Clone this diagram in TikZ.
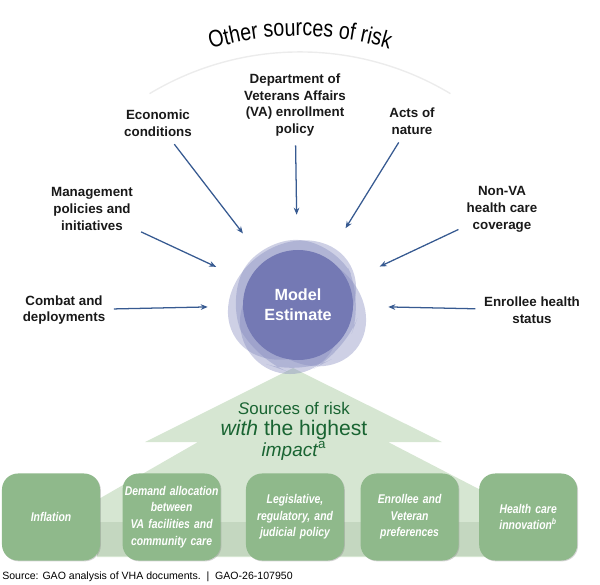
\documentclass[tikz,border=0pt]{standalone}
\usepackage{fontspec}
\setmainfont{Liberation Sans}
\newfontfamily\narrowfont{Liberation Sans}[FakeStretch=0.82]
\usepackage{tikz}
\usetikzlibrary{arrows.meta,positioning,shadows,decorations.text}
\definecolor{gaoblue}{RGB}{55,90,145}
\definecolor{estblue}{RGB}{116,121,180}
\definecolor{blobblue}{RGB}{132,138,190}
\definecolor{boxgreen}{RGB}{143,185,139}
\definecolor{treegreen}{RGB}{214,230,210}
\definecolor{bandgreen}{RGB}{196,215,192}
\definecolor{impactgreen}{RGB}{25,100,50}

\begin{document}
\begin{tikzpicture}[x=0.025cm, y=0.025cm,
    srclabel/.style={align=center, font=\fontsize{9.5}{12}\selectfont\bfseries, text=black!90, inner sep=3pt},
    riskarrow/.style={-{Stealth[length=5pt,width=4pt]}, draw=gaoblue, line width=0.9pt, shorten <=3pt},
    riskbox/.style={rectangle, rounded corners=0.4cm, fill=boxgreen, minimum width=2.45cm, minimum height=2.175cm, text width=2.43cm, inner xsep=0pt, align=center, text=white, font=\narrowfont\fontsize{9}{11.8}\selectfont\bfseries\itshape, drop shadow={shadow xshift=0.6pt, shadow yshift=-0.6pt, opacity=0.35}},
    blob/.style={fill=blobblue, fill opacity=0.4}]
    \useasboundingbox (0,0) rectangle (600,-585);

    % title on the arc
    \draw [gray!15, line width=1pt] ([shift={(121:7.3cm)}] 300,-344) arc [start angle=121, end angle=59, radius=7.3cm];
    \path [decorate, decoration={text along path, text align=center, text={|\narrowfont\fontsize{17}{17}\selectfont|Other sources of risk}}] ([shift={(128:7.7cm)}] 300,-344) arc [start angle=128, end angle=52, radius=7.7cm];

    % green tree behind the boxes
    \fill [treegreen] (293,-368) -- (145,-442) -- (198,-442) -- (97,-500) -- (97,-557) -- (500,-557) -- (500,-500) -- (388,-442) -- (442,-442) -- cycle;
    \fill [bandgreen] (97,-522) rectangle (500,-556);

    % model estimate
    \fill [blob, rounded corners=0.9cm] (226,-300) -- (262,-238) -- (335,-242) -- (364,-300) -- (345,-352) -- (300,-376) -- (255,-360) -- cycle;
    \fill [blob, rotate around={35:(292,-300)}] (292,-300) ellipse [x radius=1.7cm, y radius=1.38cm];
    \fill [blob, rotate around={-40:(308,-310)}] (308,-310) ellipse [x radius=1.55cm, y radius=1.3cm];
    \fill [blob] (290,-322) ellipse [x radius=1.25cm, y radius=1.3cm];
    \node [circle, fill=estblue, minimum size=2.75cm, text=white, align=center, font=\fontsize{11.5}{14}\selectfont\bfseries] (est) at (298,-305) {Model\\Estimate};
    \node [circle, minimum size=4.5cm] (zone) at (298,-305) {};

    % other sources of risk
    \node [srclabel] (comb) at (64,-310) {Combat and\\deployments};
    \node [srclabel] (mgmt) at (92,-209) {Management\\policies and\\initiatives};
    \node [srclabel] (econ) at (158,-123) {Economic\\conditions};
    \node [srclabel] (dept) at (295,-105) {Department of\\Veterans Affairs\\(VA) enrollment\\policy};
    \node [srclabel] (acts) at (412,-121) {Acts of\\nature};
    \node [srclabel] (nonva) at (502,-209) {Non-VA\\health care\\coverage};
    \node [srclabel] (enr) at (532,-310) {Enrollee health\\status};

    \draw [riskarrow] (comb) -- (zone);
    \draw [riskarrow] (mgmt) -- (zone);
    \draw [riskarrow] (econ) -- (zone);
    \draw [riskarrow] (dept) -- (zone);
    \draw [riskarrow] (acts) -- (zone);
    \draw [riskarrow] (nonva) -- (zone);
    \draw [riskarrow] (enr) -- (zone);

    % highest impact
    \node [align=center, text=impactgreen, font=\fontsize{13.5}{15}\selectfont] (impact) at (294,-431) {{\fontsize{12}{15}\selectfont\textit{S}ources of risk}\\{\fontsize{15}{15}\selectfont\textit{with} the highest}\\\textit{impact}\textsuperscript{a}};

    \node [riskbox] (infl) at (51,-517) {Inflation};
    \node [riskbox, right=0.55cm of infl] (demand) {Demand allocation\\between\\VA facilities and\\community care};
    \node [riskbox, right=0.62cm of demand] (legis) {Legislative,\\regulatory, and\\judicial policy};
    \node [riskbox, right=0.4cm of legis] (pref) {Enrollee and\\Veteran\\preferences};
    \node [riskbox, right=0.5cm of pref] (innov) {Health care\\innovation\textsuperscript{b}};

    \node [anchor=base west, inner sep=0pt, font=\fontsize{7.5}{9}\selectfont] (src) at (2,-579) {Source: GAO analysis of VHA documents.~~|~~GAO-26-107950};
\end{tikzpicture}
\end{document}
